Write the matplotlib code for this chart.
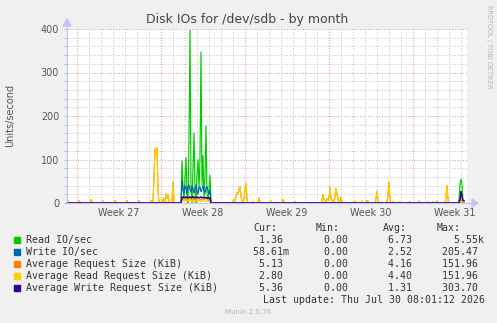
import numpy as np
import matplotlib
matplotlib.use('Agg')
import matplotlib.pyplot as plt
from matplotlib.patches import Rectangle

# samples: one every 2 hours (12 per day), sample index 0 = left edge of graph
n_samples = 398
week_bounds = [10, 94, 178, 262, 346]
week_labels = ['Week 27', 'Week 28', 'Week 29', 'Week 30', 'Week 31']

# sparse readings (index, value); everything else reads 0
read_idx = [115, 116, 117, 118, 119, 120, 121, 122, 123, 124, 125, 126, 127, 128, 129,
            130, 131, 132, 133, 134, 135, 136, 137, 138, 139, 140, 141, 142, 143,
            392, 393, 394, 395, 396, 397]
read_val = [98, 40, 5, 60, 105, 20, 0, 150, 398, 30, 0, 80, 162, 20, 0,
            70, 100, 30, 105, 348, 40, 110, 10, 60, 178, 20, 5, 30, 65,
            10, 45, 55, 40, 5, 1.36]

write_idx = [115, 116, 117, 118, 119, 120, 121, 122, 123, 124, 125, 126, 127, 128, 129,
             130, 131, 132, 133, 134, 135, 136, 137, 138, 139, 140, 141, 142, 143,
             393, 394, 395, 397]
write_val = [52, 30, 22, 40, 35, 20, 38, 42, 30, 25, 40, 35, 22, 30, 42,
             28, 20, 35, 38, 25, 32, 40, 30, 22, 35, 38, 28, 20, 30,
             3, 5, 2, 0.06]

wsize_idx = [115, 116, 117, 118, 119, 120, 121, 122, 123, 124, 125, 126, 127, 128, 129,
             130, 131, 132, 133, 134, 135, 136, 137, 138, 139, 140, 141, 142, 143,
             393, 394, 395, 396, 397]
wsize_val = [12, 14, 13, 12, 14, 13, 12, 13, 14, 12, 13, 15, 12, 13, 12,
             14, 13, 12, 13, 14, 12, 13, 12, 13, 12, 11, 12, 12, 12,
             8, 27, 15, 6, 5.36]

req_burst_idx = [115, 116, 117, 118, 119, 120, 121, 122, 123, 124, 125, 126, 127, 128, 129,
                 130, 131, 132, 133, 134, 135, 136, 137, 138, 139, 140, 141, 142, 143,
                 393, 394, 395, 396, 397]
req_burst_val = [10, 8, 12, 9, 11, 7, 10, 12, 9, 8, 11, 10, 7, 9, 12,
                 8, 10, 11, 9, 7, 10, 12, 8, 9, 11, 10, 8, 9, 10,
                 5, 15, 8, 5, 5.13]

rsize_idx = [0, 1, 12, 13, 24, 25, 36, 48, 49, 60, 72, 84, 85,
             86, 87, 88, 89, 90, 91, 95, 96, 97, 99, 100, 101, 102, 105, 106,
             115, 116, 117, 118, 119, 120, 121, 122, 123, 124, 125, 126, 127, 128, 129,
             130, 131, 132, 133, 134, 135, 136, 137, 138, 139, 140, 141, 142, 143,
             166, 167, 168, 169, 170, 171, 172, 173, 174, 175, 176, 177, 178, 179, 180,
             186, 192, 193, 204, 216, 217, 228,
             255, 256, 257, 258, 259, 260, 261, 262, 263, 264, 265, 266, 268, 269, 270,
             271, 273, 274, 275, 287, 289, 295, 300, 301, 309, 310, 311, 314,
             321, 322, 323, 326, 333, 343, 352, 361, 366, 370, 379, 380, 381,
             394, 395, 396, 397]
rsize_val = [9, 4, 5, 3, 8, 4, 5, 6, 3, 6, 6, 5, 6,
             3, 60, 125, 110, 128, 30, 8, 3, 12, 22, 10, 20, 5, 5, 49,
             5, 8, 3, 10, 6, 2, 8, 4, 7, 3, 9, 5, 2, 6, 8,
             4, 3, 7, 5, 2, 6, 8, 4, 3, 5, 7, 3, 4, 5,
             3, 8, 4, 15, 25, 20, 30, 38, 15, 5, 3, 10, 30, 46, 8,
             3, 12, 4, 5, 9, 3, 4,
             5, 20, 8, 4, 3, 10, 6, 10, 37, 12, 4, 8, 15, 34, 20,
             10, 3, 14, 3, 4, 3, 5, 6, 4, 10, 28, 5, 3,
             20, 49, 8, 4, 3, 4, 5, 4, 3, 5, 15, 41, 5,
             5, 3, 2, 2.8]

names = ['Read IO/sec', 'Write IO/sec', 'Average Request Size (KiB)',
         'Average Read Request Size (KiB)', 'Average Write Request Size (KiB)']
colors = ['#00CC00', '#0066B3', '#FF8000', '#FFCC00', '#330099']
cur = ['1.36', '58.61m', '5.13', '2.80', '5.36']
mins = ['0.00', '0.00', '0.00', '0.00', '0.00']
avgs = ['6.73', '2.52', '4.16', '4.40', '1.31']
maxs = ['5.55k', '205.47', '151.96', '151.96', '303.70']


def series(idx, val):
    s = np.zeros(n_samples)
    s[idx] = val
    return s


x = np.arange(n_samples)
read = series(read_idx, read_val)
write = series(write_idx, write_val)
rsize = series(rsize_idx, rsize_val)
req = rsize.copy()
req[req_burst_idx] = req_burst_val
wsize = series(wsize_idx, wsize_val)

W, H = 497, 323
fig = plt.figure(figsize=(W / 100, H / 100), dpi=100, facecolor='#F0F0F0')
ax = fig.add_axes([67 / W, (H - 203) / H, 400 / W, 174 / H])
ax.set_facecolor('white')
ax.set_xlim(0, 400)
ax.set_ylim(0, 400)

# grid like rrdtool
minor_c, major_c = '#c8c8c8', '#e09a9a'
dots = (0, (1.0, 1.6))
for v in range(20, 401, 20):
    c = major_c if v % 100 == 0 else minor_c
    ax.axhline(v, color=c, lw=0.75, ls=dots, zorder=1)
for d in range(10, 400, 12):
    c = major_c if d in week_bounds else minor_c
    ax.axvline(d, color=c, lw=0.75, ls=dots, zorder=1)

for s, c in zip([read, write, req, rsize, wsize], colors):
    ax.plot(x, s, color=c, lw=0.85, zorder=3, solid_joinstyle='miter')

for sp in ax.spines.values():
    sp.set_visible(False)
ax.set_xticks([])
ax.set_yticks(range(0, 401, 100))
ax.set_yticklabels([str(v) for v in range(0, 401, 100)], fontsize=6.9, color='#555555')
ax.set_yticks(range(0, 401, 20), minor=True)
ax.tick_params(axis='y', which='both', length=2.2, width=0.6, color='#b0b0b0', pad=3.5)

# axes with arrows
axis_c = '#c4c4f4'
fig.add_artist(plt.Line2D([67 / W, 477 / W], [1 - 203 / H, 1 - 203 / H], color=axis_c, lw=0.8, zorder=2))
fig.add_artist(plt.Line2D([67 / W, 67 / W], [1 - 203 / H, 1 - 20 / H], color=axis_c, lw=0.8))
fig.add_artist(plt.Polygon([[472 / W, 1 - 199 / H], [478 / W, 1 - 203 / H], [472 / W, 1 - 207 / H]],
                           closed=True, color=axis_c, transform=fig.transFigure))
fig.add_artist(plt.Polygon([[63 / W, 1 - 26 / H], [67 / W, 1 - 19 / H], [71 / W, 1 - 26 / H]],
                           closed=True, color=axis_c, transform=fig.transFigure))
ax.plot(x, wsize, color=colors[4], lw=0.85, zorder=4, clip_on=False)

for i, lab in enumerate(week_labels):
    xc = 67 + week_bounds[i] + 42
    fig.text(xc / W, 1 - 212.5 / H, lab, ha='center', va='center', fontsize=6.9, color='#555555')

fig.text(247.5 / W, 1 - 19 / H, 'Disk IOs for /dev/sdb - by month', ha='center', va='center',
         fontsize=9, color='#444444')
fig.text(10 / W, 1 - 115 / H, 'Units/second', ha='center', va='center', rotation=90,
         fontsize=7, color='#555555')
fig.text(489.5 / W, 1 - 5 / H, 'RRDTOOL / TOBI OETIKER', ha='center', va='top', rotation=270,
         fontsize=4.7, color='#b4b4b4')
fig.text(248 / W, 1 - 312 / H, 'Munin 2.0.76', ha='center', va='center', fontsize=5, color='#b4b4b4')

# legend
mono = dict(family='DejaVu Sans Mono', fontsize=7.1, color='#333333', va='center')
cols = [247, 311.5, 376.5, 441.5]
for hx, hd in zip([253, 316, 383, 437], ['Cur:', 'Min:', 'Avg:', 'Max:']):
    fig.text(hx / W, 1 - 228.3 / H, hd, ha='left', **mono)


def fmt(v):
    if v[-1].isalpha():
        return v.rjust(7)
    return v.rjust(6) + ' '


for i in range(len(names)):
    y = 239.7 + i * 12.05
    fig.add_artist(Rectangle((14 / W, 1 - (y + 3) / H), 6 / W, 6 / H, color=colors[i],
                             transform=fig.transFigure))
    fig.text(26 / W, 1 - y / H, names[i], ha='left', **mono)
    for cx, v in zip(cols, [cur[i], mins[i], avgs[i], maxs[i]]):
        fig.text(cx / W, 1 - y / H, fmt(v), ha='left', **mono)
fig.text(485 / W, 1 - 300 / H, 'Last update: Thu Jul 30 08:01:12 2026', ha='right', **mono)

fig.savefig('out.png', dpi=100, facecolor=fig.get_facecolor())
